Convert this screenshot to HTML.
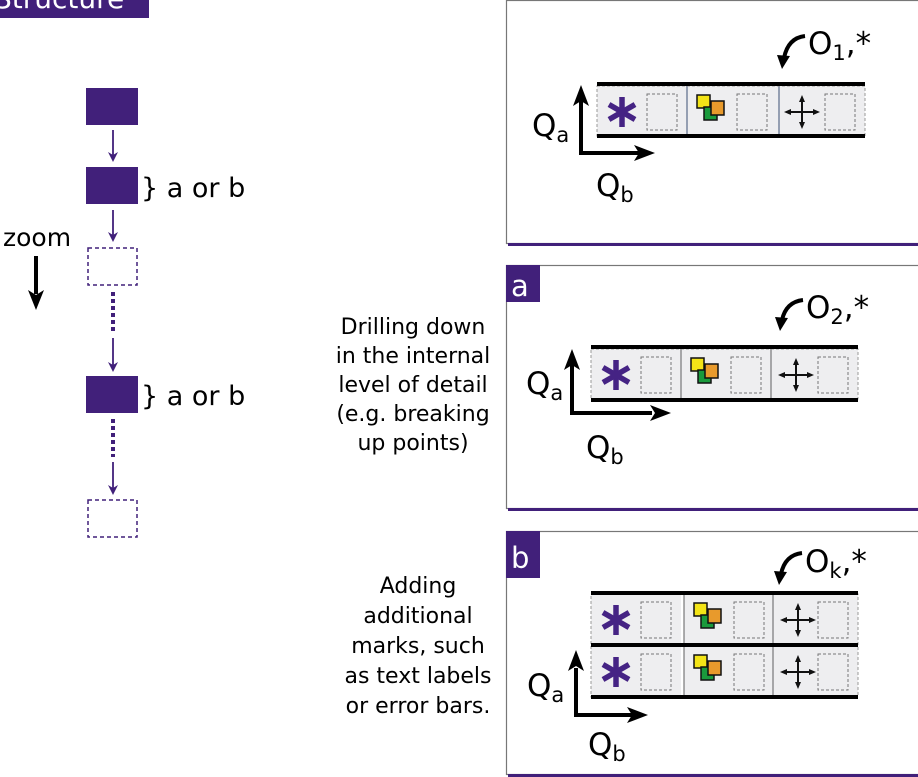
<!DOCTYPE html>
<html><head><meta charset="utf-8"><style>
html,body{margin:0;padding:0;background:#fff;}
svg{display:block;}
text{font-family:"DejaVu Sans","Liberation Sans",sans-serif;}
</style></head><body>
<svg width="918" height="777" viewBox="0 0 918 777" xmlns="http://www.w3.org/2000/svg">
<defs>
<g id="bg"><rect x="0" y="0" width="90" height="52" fill="#eeeef0"/><rect x="50" y="8" width="30" height="36" fill="none" stroke="#777" stroke-dasharray="3,2"/></g>
<g id="ast"><g stroke="#452384" stroke-width="5.5"><line x1="25" y1="11" x2="25" y2="41"/><line x1="12" y1="18.5" x2="38" y2="33.5"/><line x1="12" y1="33.5" x2="38" y2="18.5"/></g></g>
<g id="sq"><rect x="10" y="9" width="13" height="13" fill="#f3e417" stroke="#111" stroke-width="1.5"/><rect x="17" y="21" width="13" height="13" fill="#1a9a3c" stroke="#111" stroke-width="1.5"/><rect x="24" y="15" width="13" height="14" fill="#e89a2c" stroke="#111" stroke-width="1.5"/></g>
<g id="pl"><g stroke="#111" stroke-width="2"><line x1="10" y1="26" x2="40" y2="26"/><line x1="25" y1="12" x2="25" y2="40"/></g><g fill="#111"><path d="M7,26 L14,23 L14,29Z"/><path d="M43,26 L36,23 L36,29Z"/><path d="M25,9 L22,16 L28,16Z"/><path d="M25,43 L22,36 L28,36Z"/></g></g>
</defs>

<rect x="0" y="0" width="149" height="18" fill="#41207a"/>
<text x="-6" y="8" font-size="28" fill="#fff">Structure</text>

<g fill="#41207a">
<rect x="86" y="88" width="52" height="37"/>
<rect x="86" y="167" width="52" height="37"/>
<rect x="86" y="376" width="52" height="37"/>
</g>
<g fill="none" stroke="#41207a" stroke-width="1.5" stroke-dasharray="4,3">
<rect x="88" y="248" width="49" height="37"/>
<rect x="88" y="500" width="49" height="37"/>
</g>
<g stroke="#41207a" stroke-width="1.8">
<line x1="113" y1="130" x2="113" y2="160"/><path d="M108,152 L113,162 L118,152 L113,155Z" fill="#41207a" stroke="none"/>
<line x1="113" y1="210" x2="113" y2="238"/><path d="M108,232 L113,242 L118,232 L113,235Z" fill="#41207a" stroke="none"/>
<line x1="113" y1="338" x2="113" y2="368"/><path d="M108,362 L113,372 L118,362 L113,365Z" fill="#41207a" stroke="none"/>
<line x1="113" y1="462" x2="113" y2="490"/><path d="M108,485 L113,495 L118,485 L113,488Z" fill="#41207a" stroke="none"/>
<line x1="113" y1="292" x2="113" y2="332" stroke-width="4" stroke-dasharray="4,3"/>
<line x1="113" y1="419" x2="113" y2="457" stroke-width="4" stroke-dasharray="4,3"/>
</g>
<text x="141" y="197" font-size="27" fill="#000">} a or b</text>
<text x="141" y="405" font-size="27" fill="#000">} a or b</text>
<text x="3" y="246" font-size="25" fill="#000">zoom</text>
<line x1="36" y1="256" x2="36" y2="294" stroke="#000" stroke-width="4"/>
<path d="M28,290 L36,310 L44,290 L36,295Z" fill="#000"/>

<g font-size="22" text-anchor="middle" fill="#000">
<text x="413" y="334">Drilling down</text>
<text x="413" y="363">in the internal</text>
<text x="413" y="392">level of detail</text>
<text x="413" y="421">(e.g. breaking</text>
<text x="413" y="450">up points)</text>
<text x="418" y="593">Adding</text>
<text x="418" y="623">additional</text>
<text x="418" y="653">marks, such</text>
<text x="418" y="683">as text labels</text>
<text x="418" y="713">or error bars.</text>
</g>

<!-- panel 1 -->
<rect x="506.5" y="0.5" width="420" height="243" fill="#fff" stroke="#777" stroke-width="1.2"/>
<rect x="508" y="243" width="410" height="3" fill="#41207a"/>
<use href="#bg" x="597" y="86"/><use href="#bg" x="687" y="86"/><use href="#bg" x="775" y="86"/>
<use href="#ast" x="597" y="86"/><use href="#sq" x="687" y="86"/><use href="#pl" x="777" y="86"/>
<g stroke="#5a6a88" stroke-width="1.2"><line x1="687" y1="86" x2="687" y2="136"/><line x1="779" y1="86" x2="779" y2="136"/></g>
<rect x="597" y="86" width="268" height="50" fill="none" stroke="#999" stroke-dasharray="3,2"/>
<g stroke="#000" stroke-width="4"><line x1="597" y1="84" x2="865" y2="84"/><line x1="597" y1="136" x2="865" y2="136"/>
<line x1="581" y1="100" x2="581" y2="153"/><line x1="579" y1="153" x2="640" y2="153"/></g>
<path d="M573,106 L581,85 L589,106 L581,101Z"/><path d="M634,145 L655,153 L634,161 L639,153Z"/>
<text x="532" y="136" font-size="31">Q<tspan font-size="21" dy="6">a</tspan></text>
<text x="596" y="196" font-size="31">Q<tspan font-size="21" dy="6">b</tspan></text>
<text x="808" y="54" font-size="31">O<tspan font-size="21" dy="6">1</tspan><tspan dy="-6">,*</tspan></text>
<path d="M805,36 Q788,38 784,58" fill="none" stroke="#000" stroke-width="4"/><path d="M777,55 L782,69 L790,56Z"/>

<!-- panel a -->
<rect x="506.5" y="265.5" width="420" height="243" fill="#fff" stroke="#777" stroke-width="1.2"/>
<rect x="508" y="508" width="410" height="3" fill="#41207a"/>
<rect x="506" y="265" width="34" height="37" fill="#41207a"/>
<text x="511" y="296" font-size="29" fill="#fff">a</text>
<use href="#bg" x="591" y="349"/><use href="#bg" x="681" y="349"/><use href="#bg" x="768" y="349"/>
<use href="#ast" x="591" y="349"/><use href="#sq" x="681" y="349"/><use href="#pl" x="771" y="349"/>
<g stroke="#777" stroke-width="1.2"><line x1="681" y1="349" x2="681" y2="399"/><line x1="771" y1="349" x2="771" y2="399"/></g>
<rect x="591" y="349" width="267" height="50" fill="none" stroke="#999" stroke-dasharray="3,2"/>
<g stroke="#000" stroke-width="4"><line x1="591" y1="347" x2="858" y2="347"/><line x1="591" y1="400" x2="858" y2="400"/>
<line x1="572" y1="365" x2="572" y2="413"/><line x1="570" y1="413" x2="652" y2="413"/></g>
<path d="M564,370 L572,349 L580,370 L572,365Z"/><path d="M650,405 L671,413 L650,421 L655,413Z"/>
<text x="526" y="394" font-size="31">Q<tspan font-size="21" dy="6">a</tspan></text>
<text x="586" y="458" font-size="31">Q<tspan font-size="21" dy="6">b</tspan></text>
<text x="806" y="318" font-size="31">O<tspan font-size="21" dy="6">2</tspan><tspan dy="-6">,*</tspan></text>
<path d="M803,300 Q786,302 782,320" fill="none" stroke="#000" stroke-width="4"/><path d="M775,317 L780,331 L788,318Z"/>

<!-- panel b -->
<rect x="506.5" y="531.5" width="420" height="243" fill="#fff" stroke="#777" stroke-width="1.2"/>
<rect x="508" y="774" width="410" height="3" fill="#41207a"/>
<rect x="506" y="531" width="34" height="47" fill="#41207a"/>
<text x="511" y="568" font-size="29" fill="#fff">b</text>
<use href="#bg" x="591" y="594"/><use href="#bg" x="684" y="594"/><use href="#bg" x="768" y="594"/>
<use href="#ast" x="591" y="594"/><use href="#sq" x="684" y="594"/><use href="#pl" x="773" y="594"/>
<use href="#bg" x="591" y="646"/><use href="#bg" x="684" y="646"/><use href="#bg" x="768" y="646"/>
<use href="#ast" x="591" y="646"/><use href="#sq" x="684" y="646"/><use href="#pl" x="773" y="646"/>
<g stroke="#777" stroke-width="1.2"><line x1="684" y1="593" x2="684" y2="697"/><line x1="773" y1="593" x2="773" y2="697"/></g>
<rect x="591" y="594" width="267" height="103" fill="none" stroke="#999" stroke-dasharray="3,2"/>
<g stroke="#000" stroke-width="4"><line x1="591" y1="593" x2="858" y2="593"/><line x1="591" y1="645" x2="858" y2="645"/><line x1="591" y1="697" x2="858" y2="697"/>
<line x1="576" y1="668" x2="576" y2="715"/><line x1="574" y1="715" x2="632" y2="715"/></g>
<path d="M568,671 L576,650 L584,671 L576,666Z"/><path d="M627,707 L648,715 L627,723 L632,715Z"/>
<text x="527" y="696" font-size="31">Q<tspan font-size="21" dy="6">a</tspan></text>
<text x="588" y="755" font-size="31">Q<tspan font-size="21" dy="6">b</tspan></text>
<text x="805" y="572" font-size="31">O<tspan font-size="21" dy="6">k</tspan><tspan dy="-6">,*</tspan></text>
<path d="M802,553 Q785,555 781,574" fill="none" stroke="#000" stroke-width="4"/><path d="M774,571 L779,585 L787,572Z"/>
</svg>
</body></html>
